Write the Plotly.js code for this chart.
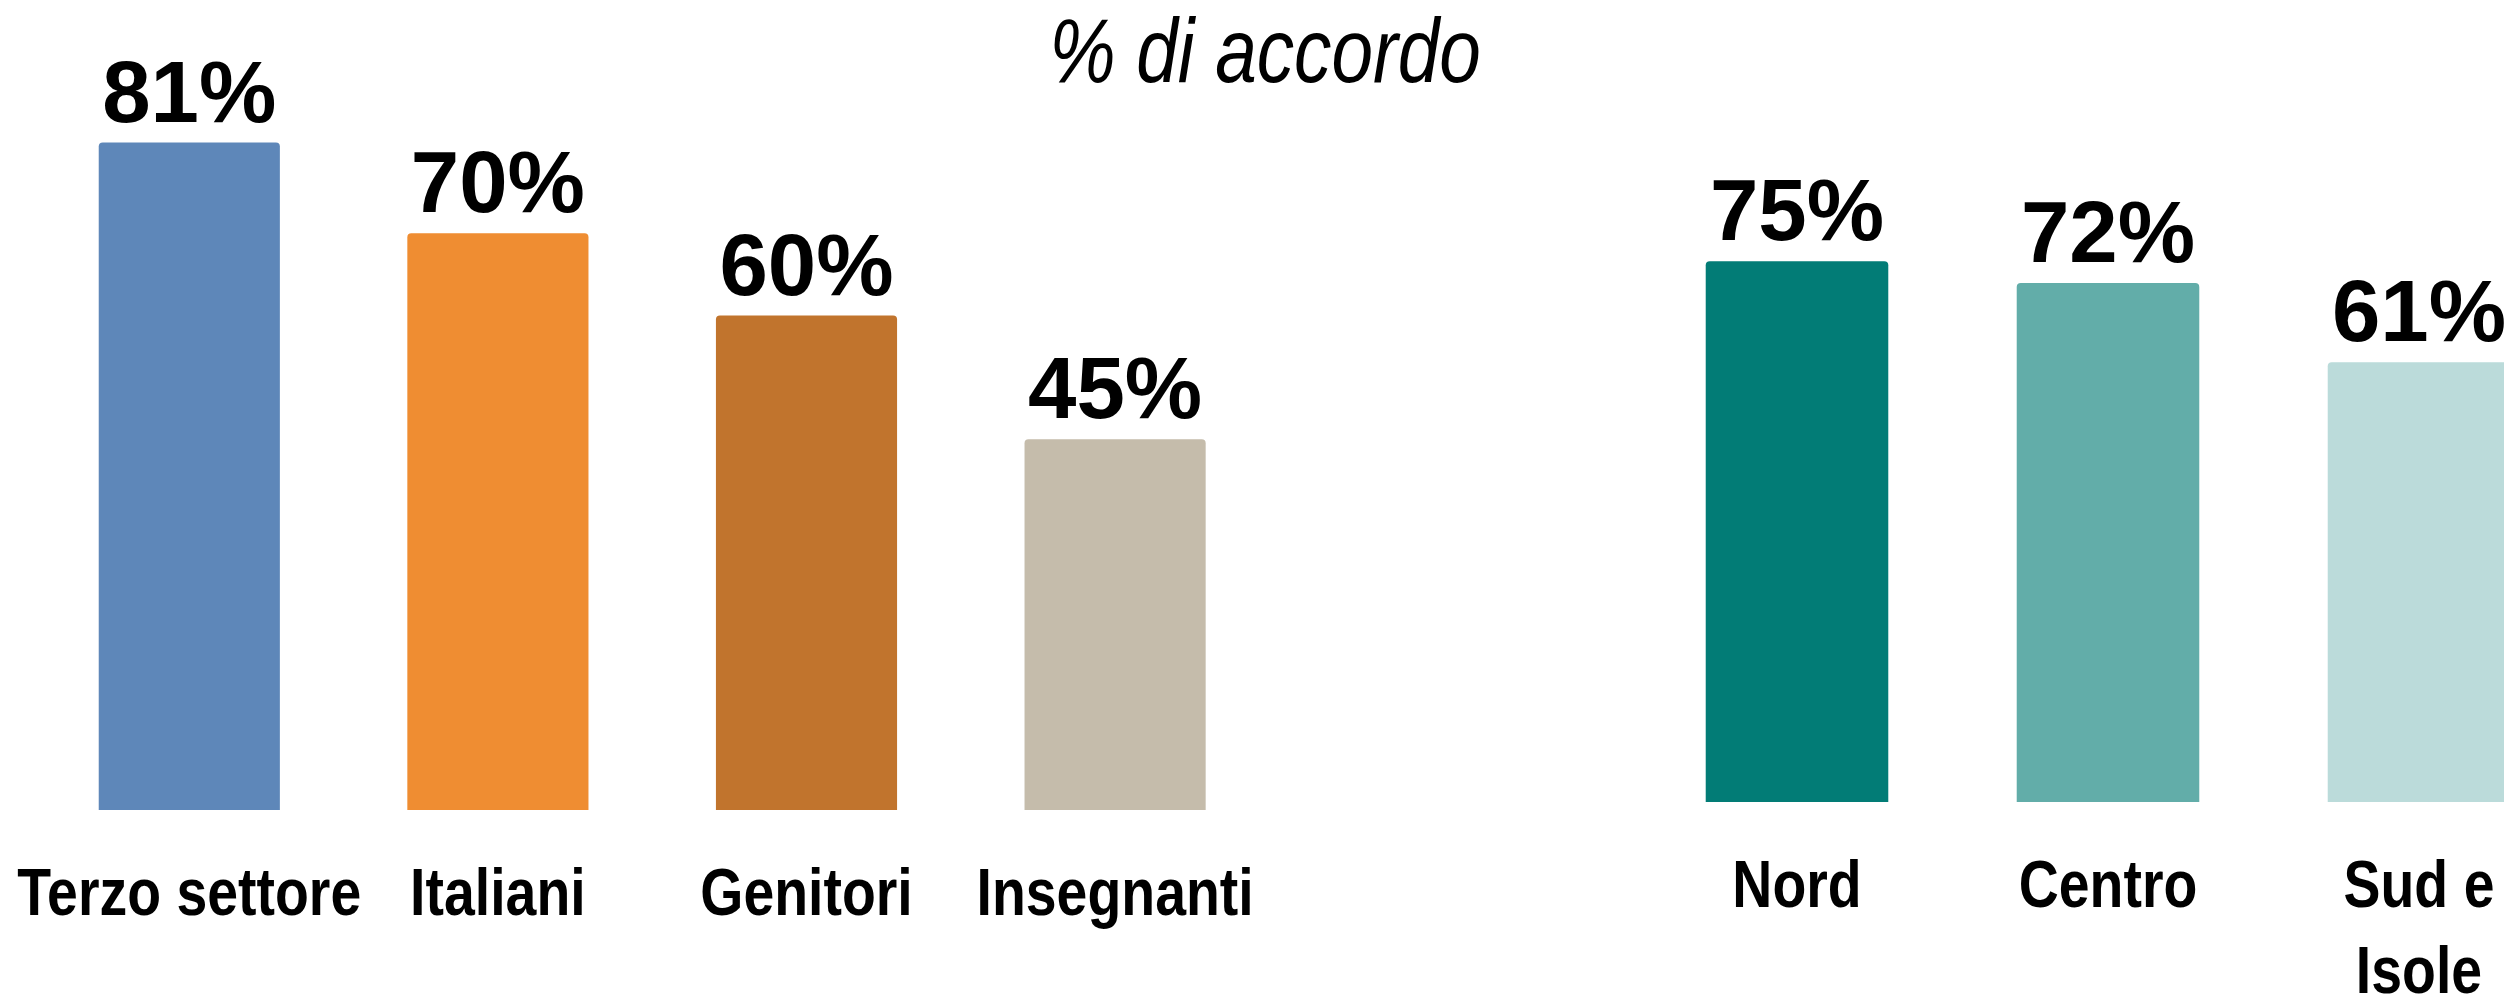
<!DOCTYPE html>
<html>
<head>
<meta charset="utf-8">
<script src="https://cdn.plot.ly/plotly-3.0.1.min.js"></script>
<style>
html,body{margin:0;padding:0;background:#fff;}
#chart{width:2504px;height:1001px;}
</style>
</head>
<body>
<div id="chart"></div>
<script>
// Left group: categories of respondents
const groupCategories = ["Terzo settore", "Italiani", "Genitori", "Insegnanti"];
const groupValues = [81, 70, 60, 45];
const groupColors = ["#5E87B9", "#EF8D32", "#C1742D", "#C5BCAB"];

// Right group: geographic areas
const areaCategories = ["Nord", "Centro", "Sud e<br>Isole"];
const areaValues = [75, 72, 61];
const areaColors = ["#027C76", "#62ADA9", "#BBDBDA"];

const titleText = "% di accordo";

const W = 2504, H = 1001;
const sans = "Liberation Sans, Arial, Helvetica, sans-serif";
const valueFont = {family: sans, size: 87, color: "#000", weight: 700};
const tickFont = {family: sans, size: 66, color: "#000", weight: 700};

// horizontal condensing to imitate the condensed typeface of the original
const TICK_CONDENSE = 0.84;
const TITLE_CONDENSE = 0.83;

const traces = [
  {
    type: "bar",
    x: groupCategories,
    y: groupValues,
    text: groupValues.map(v => v + "%"),
    textposition: "outside",
    textfont: valueFont,
    constraintext: "none",
    cliponaxis: false,
    marker: {color: groupColors, cornerradius: 4},
    xaxis: "x", yaxis: "y",
    hoverinfo: "skip"
  },
  {
    type: "bar",
    x: areaCategories,
    y: areaValues,
    text: areaValues.map(v => v + "%"),
    textposition: "outside",
    textfont: valueFont,
    constraintext: "none",
    cliponaxis: false,
    marker: {color: areaColors, cornerradius: 4},
    xaxis: "x2", yaxis: "y2",
    hoverinfo: "skip"
  }
];

const leftSpacing = 308.6, leftStart = 35;
const rightSpacing = 311, rightStart = 1641.5;

const axisCommon = {
  type: "category",
  showgrid: false, zeroline: false, showline: false,
  ticks: "", tickfont: tickFont, fixedrange: true,
  tickangle: 0,
  ticklabelstandoff: 38
};

const layout = {
  width: W, height: H,
  margin: {l: 0, r: 0, t: 0, b: 0, pad: 0},
  paper_bgcolor: "#fff", plot_bgcolor: "rgba(0,0,0,0)",
  showlegend: false,
  bargap: 0.413,
  title: {
    text: titleText,
    font: {family: sans, size: 90, color: "#000", style: "italic", weight: 400},
    x: 1265 / W, xanchor: "center",
    y: 1 - 50 / H, yanchor: "middle", yref: "container"
  },
  xaxis: Object.assign({}, axisCommon, {
    domain: [leftStart / W, (leftStart + 4 * leftSpacing) / W],
    range: [-0.5, 3.5],
    anchor: "y"
  }),
  yaxis: {
    domain: [(H - 810) / H, 1],
    range: [0, 810 / 8.24],
    visible: false, fixedrange: true
  },
  xaxis2: Object.assign({}, axisCommon, {
    domain: [rightStart / W, 1],
    range: [-0.5, -0.5 + (W - rightStart) / rightSpacing],
    anchor: "y2"
  }),
  yaxis2: {
    domain: [(H - 802) / H, 1],
    range: [0, 802 / 7.21],
    visible: false, fixedrange: true
  }
};

function condense(el, s) {
  const bb = el.getBBox();
  const cx = bb.x + bb.width / 2;
  const prev = el.getAttribute("transform") || "";
  el.setAttribute("transform", prev + " translate(" + cx + ",0) scale(" + s + ",1) translate(" + (-cx) + ",0)");
}

Plotly.newPlot("chart", traces, layout, {staticPlot: true, displayModeBar: false}).then(gd => {
  gd.querySelectorAll(".xtick text, .x2tick text").forEach(t => condense(t, TICK_CONDENSE));
  gd.querySelectorAll(".gtitle").forEach(t => condense(t, TITLE_CONDENSE));
});
</script>
</body>
</html>
